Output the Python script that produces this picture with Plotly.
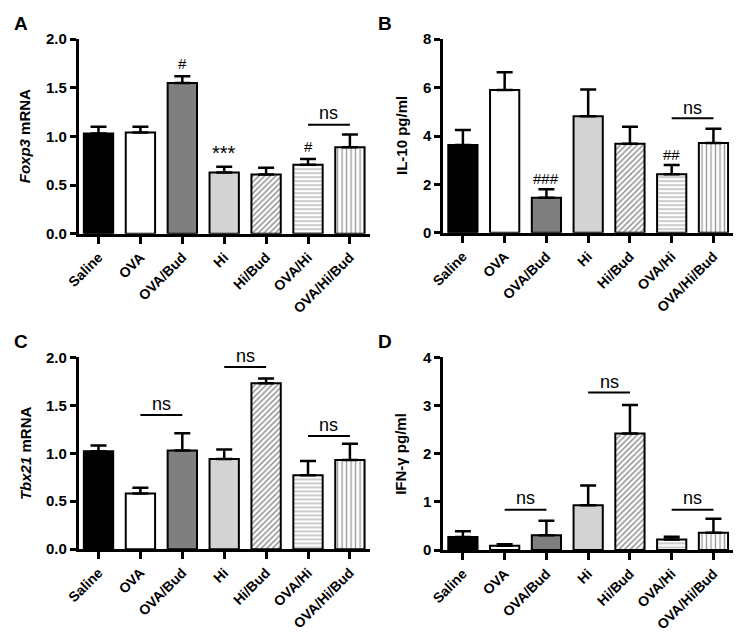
import plotly.graph_objects as go

categories = ["Saline", "OVA", "OVA/Bud", "Hi", "Hi/Bud", "OVA/Hi", "OVA/Hi/Bud"]

foxp3_mean = [1.03, 1.04, 1.55, 0.63, 0.61, 0.71, 0.89]
foxp3_top = [1.10, 1.10, 1.62, 0.69, 0.68, 0.77, 1.02]

il10_mean = [3.63, 5.90, 1.45, 4.82, 3.68, 2.42, 3.71]
il10_top = [4.25, 6.63, 1.80, 5.92, 4.38, 2.80, 4.30]

tbx21_mean = [1.02, 0.58, 1.03, 0.94, 1.73, 0.77, 0.93]
tbx21_top = [1.08, 0.64, 1.21, 1.04, 1.78, 0.92, 1.10]

ifng_mean = [0.27, 0.09, 0.31, 0.93, 2.42, 0.22, 0.36]
ifng_top = [0.39, 0.12, 0.61, 1.34, 3.01, 0.28, 0.65]

fill_colors = ["#000000", "#ffffff", "#7f7f7f", "#d3d3d3", "#ffffff", "#ffffff", "#ffffff"]
pattern_shapes = ["", "", "", "", "/", "-", "|"]
pattern_fg = ["", "", "", "", "#2a2a2a", "#555555", "#333333"]
pattern_size = [0, 0, 0, 0, 4, 4, 4.5]
pattern_solidity = [0, 0, 0, 0, 0.38, 0.3, 0.3]

FONT = "Liberation Sans, Arial, Helvetica, sans-serif"

W, H = 737, 635
XRANGE = [-0.47, 6.47]


def px_x(p):
    return p / W


def px_y(p):
    return 1 - p / H


panels = [
    # letter, mean, top, yrange, dtick, fmt, x px range, y px range, title, title x px
    ("A", foxp3_mean, foxp3_top, [0, 2.0], 0.5, ".1f", (67, 363), (31, 231), "<i>Foxp3</i> mRNA", 12),
    ("B", il10_mean, il10_top, [0, 8], 2, "d", (438, 733), (31, 230), "IL-10 pg/ml", 395),
    ("C", tbx21_mean, tbx21_top, [0, 2.0], 0.5, ".1f", (67, 363), (358, 555), "<i>Tbx21</i> mRNA", 12),
    ("D", ifng_mean, ifng_top, [0, 4], 1, "d", (438, 733), (358, 556), "IFN-γ pg/ml", 395),
]

# significance marks: (panel index, x category index, y value, text, size)
marks = [
    (0, 2, 1.64, "#", 15),
    (0, 3, 0.70, "***", 20),
    (0, 5, 0.79, "#", 15),
    (1, 2, 1.82, "###", 15),
    (1, 5, 2.82, "##", 15),
]
# ns brackets: (panel index, x0, x1, y line, y text)
ns_lines = [
    (0, 5, 6, 1.12, 1.24),
    (1, 5, 6, 4.73, 5.16),
    (2, 1, 2, 1.40, 1.515),
    (2, 3, 4, 1.90, 2.015),
    (2, 5, 6, 1.18, 1.295),
    (3, 1, 2, 0.84, 1.08),
    (3, 3, 4, 3.27, 3.50),
    (3, 5, 6, 0.84, 1.08),
]


def to_paper(pi, xv, yv):
    _, _, _, yr, _, _, xpx, ypx, _, _ = panels[pi]
    x0p, x1p = px_x(xpx[0]), px_x(xpx[1])
    y0p, y1p = px_y(ypx[1]), px_y(ypx[0])
    xp = x0p + (xv - XRANGE[0]) / (XRANGE[1] - XRANGE[0]) * (x1p - x0p)
    yp = y0p + (yv - yr[0]) / (yr[1] - yr[0]) * (y1p - y0p)
    return xp, yp


fig = go.Figure()
annotations = []
shapes = []
layout = {}

for i, (letter, mean, top, yr, dt, fmt, xpx, ypx, title, tx) in enumerate(panels):
    n = i + 1
    xa = "x" if n == 1 else f"x{n}"
    ya = "y" if n == 1 else f"y{n}"
    for j, cat in enumerate(categories):
        if pattern_shapes[j]:
            pat = dict(shape=pattern_shapes[j], fgcolor=pattern_fg[j], bgcolor=fill_colors[j],
                       size=pattern_size[j], solidity=pattern_solidity[j])
        else:
            pat = dict(shape="")
        fig.add_trace(go.Bar(
            x=[j], y=[mean[j]], width=[0.7],
            xaxis=xa, yaxis=ya,
            marker=dict(color=fill_colors[j], line=dict(color="black", width=2),
                        pattern=pat),
            error_y=dict(type="data", symmetric=False, array=[top[j] - mean[j]],
                         arrayminus=[0], color="black", thickness=2.5, width=8),
            showlegend=False, name=cat,
        ))
    xkey = "xaxis" if n == 1 else f"xaxis{n}"
    ykey = "yaxis" if n == 1 else f"yaxis{n}"
    layout[xkey] = dict(
        domain=[px_x(xpx[0]), px_x(xpx[1])], anchor=ya,
        range=XRANGE, tickmode="array",
        tickvals=list(range(len(categories))), ticktext=categories,
        tickangle=-45, showline=True, linecolor="black", linewidth=3,
        ticks="outside", ticklen=7, tickwidth=3, tickcolor="black",
        showgrid=False, zeroline=False,
        tickfont=dict(family=FONT, size=14, color="black", weight="bold"),
    )
    layout[ykey] = dict(
        domain=[px_y(ypx[1]), px_y(ypx[0])], anchor=xa,
        range=yr, dtick=dt, tick0=0, tickformat=fmt,
        showline=True, linecolor="black", linewidth=3,
        ticks="outside", ticklen=6, tickwidth=2.5, tickcolor="black",
        showgrid=False, zeroline=False,
        tickfont=dict(family=FONT, size=15, color="black", weight="bold"),
    )
    # panel letter
    annotations.append(dict(
        text=f"<b>{letter}</b>", xref="paper", yref="paper",
        x=px_x(xpx[0] - 59), y=px_y(ypx[0] - 16),
        xanchor="center", yanchor="middle", showarrow=False,
        font=dict(family=FONT, size=19, color="black"),
    ))
    # y title
    annotations.append(dict(
        text=f"<b>{title}</b>", xref="paper", yref="paper",
        x=px_x(tx), y=px_y((ypx[0] + ypx[1]) / 2), textangle=-90,
        xanchor="center", yanchor="middle", showarrow=False,
        font=dict(family=FONT, size=15, color="black"),
    ))

for (pi, xi, yv, txt, sz) in marks:
    xp, yp = to_paper(pi, xi, yv)
    annotations.append(dict(
        text=txt, xref="paper", yref="paper", x=xp, y=yp, xanchor="center",
        yanchor="bottom", showarrow=False,
        font=dict(family=FONT, size=sz, color="black"),
    ))

for (pi, x0, x1, yl, yt) in ns_lines:
    n = pi + 1
    xa = "x" if n == 1 else f"x{n}"
    ya = "y" if n == 1 else f"y{n}"
    shapes.append(dict(type="line", xref=xa, yref=ya, x0=x0, x1=x1, y0=yl, y1=yl,
                       line=dict(color="black", width=2)))
    xp, yp = to_paper(pi, (x0 + x1) / 2, yt)
    annotations.append(dict(
        text="ns", xref="paper", yref="paper", x=xp, y=yp, xanchor="center",
        yanchor="middle", showarrow=False,
        font=dict(family=FONT, size=18, color="black"),
    ))

fig.update_layout(
    width=W, height=H, margin=dict(l=0, r=0, t=0, b=0),
    paper_bgcolor="white", plot_bgcolor="white",
    barmode="overlay", annotations=annotations, shapes=shapes,
    font=dict(family=FONT, color="black"),
    **layout,
)

fig.write_html(
    "out.html",
    config={"displayModeBar": False},
    post_script="document.body.style.margin='0px';document.body.style.overflow='hidden';",
)
